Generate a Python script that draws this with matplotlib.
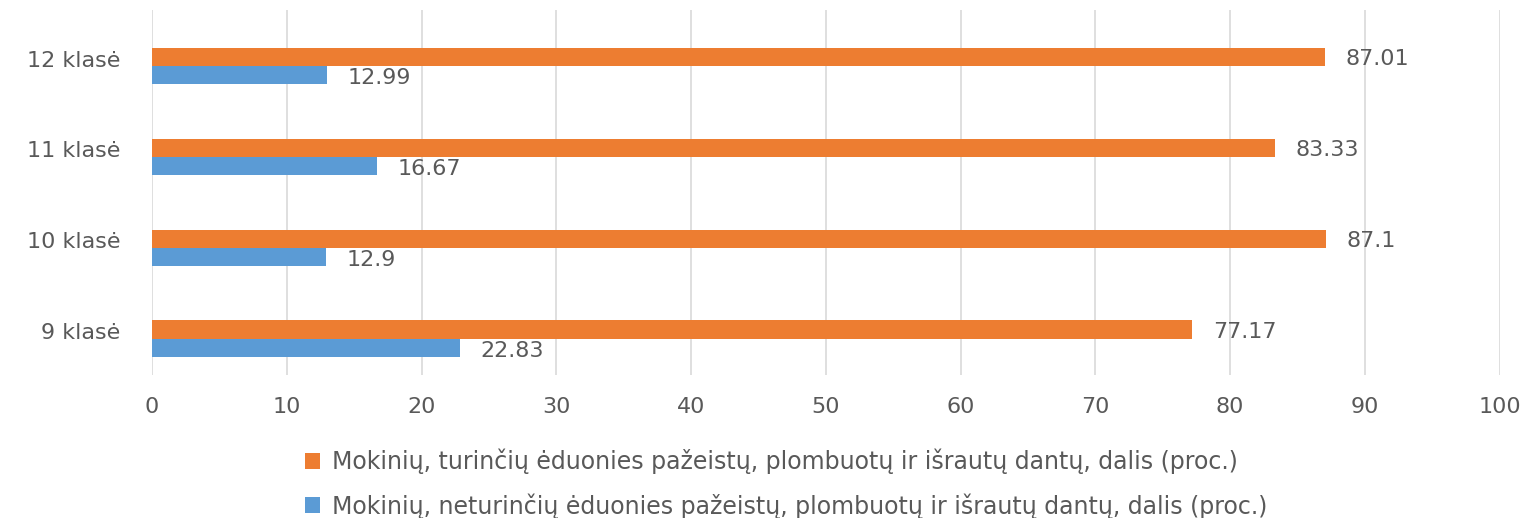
import numpy as np
import matplotlib
matplotlib.use("Agg")
import matplotlib.pyplot as plt

# Data
classes = ["9 klasė", "10 klasė", "11 klasė", "12 klasė"]
with_caries = [77.17, 87.1, 83.33, 87.01]
without_caries = [22.83, 12.9, 16.67, 12.99]
label_with = "Mokinių, turinčių ėduonies pažeistų, plombuotų ir išrautų dantų, dalis (proc.)"
label_without = "Mokinių, neturinčių ėduonies pažeistų, plombuotų ir išrautų dantų, dalis (proc.)"

orange = "#ED7D31"
blue = "#5B9BD5"
text_col = "#595959"

plt.rcParams["font.family"] = ["DejaVu Sans"]

fig = plt.figure(figsize=(15.35, 5.18), dpi=100)
ax = fig.add_axes([0.099, 0.276, 0.878, 0.705])

y = np.arange(len(classes))
h = 0.2
b1 = ax.barh(y + h / 2, with_caries, height=h, color=orange, label=label_with, zorder=3)
b2 = ax.barh(y - h / 2, without_caries, height=h, color=blue, label=label_without, zorder=3)

# value labels
for bars, vals in ((b1, with_caries), (b2, without_caries)):
    for bar, v in zip(bars, vals):
        ax.annotate(f"{v:g}", (v, bar.get_y() + bar.get_height() / 2),
                    xytext=(15, -2), textcoords="offset points",
                    va="center", ha="left", fontsize=16, color=text_col)

ax.set_xlim(0, 100)
ax.set_ylim(-0.4, 3.615)
ax.set_xticks(range(0, 101, 10))
ax.set_yticks(y + 0.08)
ax.set_yticklabels(classes)
ax.tick_params(axis="both", length=0, labelsize=16, colors=text_col)
ax.tick_params(axis="x", pad=16)
ax.tick_params(axis="y", pad=23)
ax.grid(axis="x", color="#D9D9D9", linewidth=1.2, zorder=0)
for s in ax.spines.values():
    s.set_visible(False)

fig.legend(handles=[b1, b2], loc="lower center", bbox_to_anchor=(0.512, -0.042),
           ncol=1, frameon=False, fontsize=17, labelcolor=text_col,
           handlelength=0.65, handleheight=0.65, handletextpad=0.5,
           labelspacing=0.8)

fig.savefig("out.png", dpi=100)
